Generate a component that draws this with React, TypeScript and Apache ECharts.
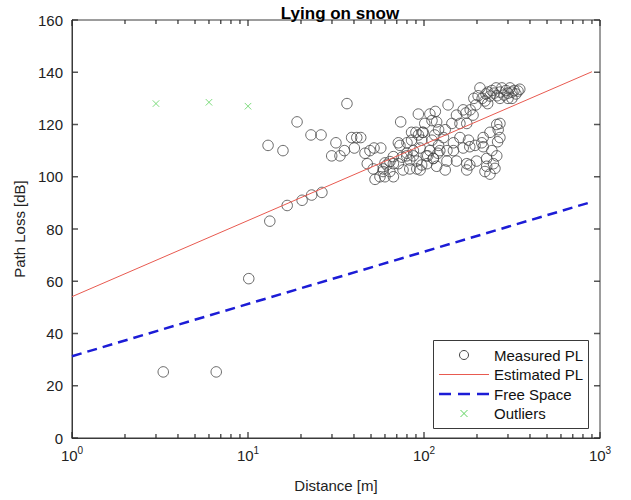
import React, { useEffect, useRef } from "react";
import * as echarts from "echarts";

const titleText = "Lying on snow";
const xName = "Distance [m]";
const yName = "Path Loss [dB]";
const legendNames = ["Measured PL", "Estimated PL", "Free Space", "Outliers"];

// Measured path loss samples: [distance m, path loss dB]
const measured: number[][] = [
  [3.3, 25.3], [6.6, 25.3], [10.1, 61], [13.3, 83], [13, 112], [15.8, 110], [16.7, 89], [19, 121],
  [20.3, 91], [23, 93], [22.8, 116], [26, 116], [26.3, 94], [36.5, 128],
  [31.6, 113], [29.9, 108], [33.3, 108], [35.3, 110], [38.8, 115], [41.5, 115], [43.7, 115], [40.2, 111],
  [46.2, 109], [49.3, 110], [52, 111], [56.8, 111], [47.6, 105],
  [52.7, 99], [56.2, 100], [60, 100], [67, 100], [58.7, 103], [51.5, 103],
  [61.4, 104.5], [67, 105], [71.5, 105], [71.5, 113], [79.7, 108], [86.9, 108], [73.7, 121], [92.9, 124],
  [85, 117], [90, 117], [98, 117], [85, 114], [97, 114],
  [108, 124], [116, 125], [111, 121.5], [118, 121],
  [108, 110], [103, 108], [113, 107], [120, 109],
  [91, 106], [97, 104.5], [95, 102.6],
  [60, 105.3], [64, 105.8], [67, 107.7], [75, 107.5], [80, 109], [83, 106.4], [87, 110], [95, 111],
  [105, 108], [91, 103], [83, 103], [76, 102.6], [64, 102], [58.5, 102], [73, 112], [80, 113],
  [93, 116], [99, 117],
  [101, 120.4], [137, 127.5], [153, 123.6], [167, 125.6], [190, 123.6], [144, 120.4], [160, 120.4], [175, 120.4],
  [121, 118], [132, 118], [115, 116], [129, 115],
  [111, 114], [121, 112], [147, 113], [160, 115], [179, 114], [195, 112], [217, 115], [237, 117], [264, 118], [270, 115],
  [123, 110], [135, 110], [147, 110], [167, 111], [182, 111.5],
  [113, 107], [104, 105], [118, 104], [135, 106], [153, 106], [175, 105], [199, 106], [227, 107],
  [217, 111.5], [243, 110],
  [227, 104], [248, 105], [259, 108], [222, 102], [237, 101],
  [175, 102.6], [182, 104.5], [132, 102.6],
  [213, 113], [259, 120], [262, 113.4], [253, 103.2], [270, 120.4],
  [192, 130], [203, 131], [214, 130], [225, 131.7], [231, 132.4], [237, 130.9], [243, 133], [250, 132],
  [257, 134], [270, 132.4], [277, 134], [285, 131.3], [292, 133], [300, 132], [308, 134], [316, 132.4],
  [325, 133], [333, 131.7], [342, 132.8], [316, 130], [270, 130], [222, 129], [197, 127.5], [183, 125.6],
  [173, 124.4], [208, 134], [260, 131], [300, 130], [350, 133.5], [230, 128],
];

const estimatedPL: number[][] = [[1, 54.1], [900, 140.2]];
const freeSpace: number[][] = [[1, 31.3], [900, 90.4]];
const outliers: number[][] = [[3, 128], [6, 128.5], [10, 127]];

// Axis tick values
const xMajorTicks = [1, 10, 100, 1000];
const xMinorTicks = [
  2, 3, 4, 5, 6, 7, 8, 9,
  20, 30, 40, 50, 60, 70, 80, 90,
  200, 300, 400, 500, 600, 700, 800, 900,
];
const yMajorTicks = [0, 20, 40, 60, 80, 100, 120, 140, 160];

const yRange = { min: 0, max: 160, interval: 20 };
const xRange = { min: 1, max: 1000 };

const FONT = "Liberation Sans, Arial, Helvetica, sans-serif";
const AX = "#3a3a3a";
const TICK = "#2a2a2a";
const RED = "#e85a50";
const BLUE = "#1c1cd6";
const GREEN = "#5fd35f";

function tickSeries(name: string, data: number[][], size: number[], offset: number[]) {
  return {
    name,
    type: "scatter",
    silent: true,
    clip: false,
    symbol: "rect",
    symbolSize: size,
    symbolOffset: offset,
    data,
    itemStyle: { color: TICK },
    z: 10,
  };
}

function buildLegend() {
  const boxX = 433;
  const boxY = 340;
  const boxW = 155;
  const boxH = 88;
  const iconL = 439;
  const iconR = 489;
  const iconC = (iconL + iconR) / 2;
  const textX = 494;
  const rowY = [355, 374.5, 394, 413.5];
  const children: any[] = [
    {
      type: "rect",
      shape: { x: boxX + 0.5, y: boxY + 0.5, width: boxW, height: boxH },
      style: { fill: "#fff", stroke: AX, lineWidth: 1 },
    },
    {
      type: "circle",
      shape: { cx: iconC, cy: rowY[0], r: 4.5 },
      style: { fill: "none", stroke: "#444", lineWidth: 1 },
    },
    {
      type: "line",
      shape: { x1: iconL, y1: rowY[1], x2: iconR, y2: rowY[1] },
      style: { stroke: RED, lineWidth: 1 },
    },
    {
      type: "line",
      shape: { x1: iconL, y1: rowY[2], x2: iconR, y2: rowY[2] },
      style: { stroke: BLUE, lineWidth: 2.5, lineDash: [12, 7] },
    },
    {
      type: "line",
      shape: { x1: iconC - 3.5, y1: rowY[3] - 3.5, x2: iconC + 3.5, y2: rowY[3] + 3.5 },
      style: { stroke: GREEN, lineWidth: 1 },
    },
    {
      type: "line",
      shape: { x1: iconC - 3.5, y1: rowY[3] + 3.5, x2: iconC + 3.5, y2: rowY[3] - 3.5 },
      style: { stroke: GREEN, lineWidth: 1 },
    },
  ];
  legendNames.forEach((name, i) => {
    children.push({
      type: "text",
      x: textX,
      y: rowY[i],
      style: {
        text: name,
        fill: "#111",
        font: `15px ${FONT}`,
        textAlign: "left",
        textVerticalAlign: "middle",
        verticalAlign: "middle",
      },
    });
  });
  return { type: "group", z: 100, silent: true, children };
}

export default function App() {
  const ref = useRef<HTMLDivElement>(null);
  useEffect(() => {
    if (!ref.current) return;
    const chart = echarts.init(ref.current, undefined, { renderer: "svg" });
    const xMarker = "path://M0,0L10,10M10,0L0,10";
    const option: any = {
      animation: false,
      textStyle: { fontFamily: FONT },
      title: {
        text: titleText,
        left: 335,
        top: 0,
        textAlign: "center",
        textStyle: { fontFamily: FONT, fontSize: 17, fontWeight: "bold", color: "#000" },
      },
      grid: {
        left: 72,
        right: 31,
        top: 20,
        bottom: 62,
        containLabel: false,
        show: true,
        borderColor: AX,
        borderWidth: 1,
        backgroundColor: "transparent",
      },
      graphic: [buildLegend()],
      xAxis: {
        type: "log",
        logBase: 10,
        min: xRange.min,
        max: xRange.max,
        name: xName,
        nameLocation: "middle",
        nameGap: 40,
        nameTextStyle: { fontFamily: FONT, fontSize: 15, color: "#222" },
        axisLine: { lineStyle: { color: AX, width: 1 } },
        axisTick: { show: false },
        splitLine: { show: false },
        axisLabel: {
          margin: 7,
          color: "#222",
          formatter: (v: number) => `{b|10}{s|${Math.round(Math.log10(v))}}`,
          rich: {
            b: { fontFamily: FONT, fontSize: 15, color: "#222" },
            s: { fontFamily: FONT, fontSize: 10, color: "#222", padding: [0, 0, 11, 0] },
          },
        },
      },
      yAxis: {
        type: "value",
        min: yRange.min,
        max: yRange.max,
        interval: yRange.interval,
        name: yName,
        nameLocation: "middle",
        nameGap: 42,
        nameTextStyle: { fontFamily: FONT, fontSize: 15, color: "#222" },
        axisLine: { show: true, lineStyle: { color: AX, width: 1 } },
        axisTick: { show: false },
        splitLine: { show: false },
        axisLabel: { fontFamily: FONT, fontSize: 15, color: "#222", margin: 9 },
      },
      series: [
        {
          name: legendNames[0],
          type: "scatter",
          symbol: "circle",
          symbolSize: 10.5,
          data: measured,
          itemStyle: { color: "transparent", borderColor: "#444", borderWidth: 1 },
          z: 3,
        },
        {
          name: legendNames[1],
          type: "line",
          symbol: "none",
          data: estimatedPL,
          lineStyle: { color: RED, width: 1 },
          itemStyle: { color: RED },
          z: 4,
        },
        {
          name: legendNames[2],
          type: "line",
          symbol: "none",
          data: freeSpace,
          lineStyle: { color: BLUE, width: 2.5, type: [10, 6] },
          itemStyle: { color: BLUE },
          z: 4,
        },
        {
          name: legendNames[3],
          type: "scatter",
          symbol: xMarker,
          symbolSize: 6.5,
          data: outliers,
          itemStyle: { color: "transparent", borderColor: GREEN, borderWidth: 1 },
          z: 3,
        },
        tickSeries("tickXMajB", xMajorTicks.map((v) => [v, yRange.min]), [1.5, 6], [0, -3]),
        tickSeries("tickXMajT", xMajorTicks.map((v) => [v, yRange.max]), [1.5, 6], [0, 3]),
        tickSeries("tickXMinB", xMinorTicks.map((v) => [v, yRange.min]), [1.5, 4], [0, -2]),
        tickSeries("tickXMinT", xMinorTicks.map((v) => [v, yRange.max]), [1.5, 4], [0, 2]),
        tickSeries("tickYL", yMajorTicks.map((v) => [xRange.min, v]), [6, 1.5], [3, 0]),
        tickSeries("tickYR", yMajorTicks.map((v) => [xRange.max, v]), [6, 1.5], [-3, 0]),
      ],
    };
    chart.setOption(option);
    return () => chart.dispose();
  }, []);
  return (
    <div
      ref={ref}
      style={{ position: "fixed", left: 0, top: 0, width: 631, height: 500, background: "#fff" }}
    />
  );
}
